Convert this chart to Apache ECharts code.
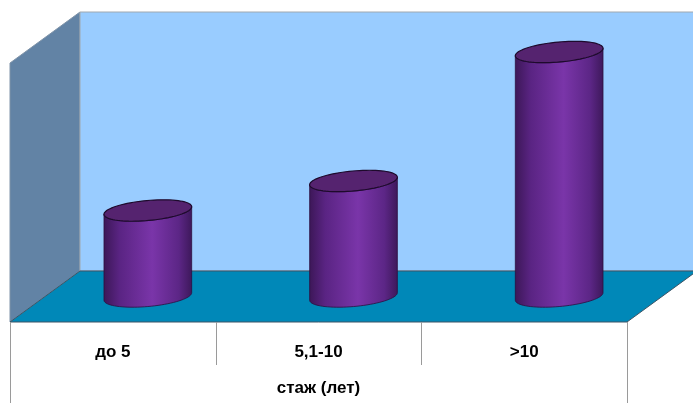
<!DOCTYPE html>
<html>
<head>
<meta charset="utf-8">
<script src="https://cdn.jsdelivr.net/npm/echarts@6/dist/echarts.min.js"></script>
<style>
  html, body { margin: 0; padding: 0; background: #ffffff; }
  #chart { width: 693px; height: 403px; }
</style>
</head>
<body>
<div id="chart"></div>
<script>
// Experience groups and their shares
const categories = ['до 5', '5,1-10', '>10'];
const values = [33.2, 44.6, 94.4];
const axisTitle = 'стаж (лет)';
const Y_MAX = 100;

// Oblique projection of the depth axis (screen px from front plane to back wall)
const DEPTH_X = 70;
const DEPTH_Y = -51;

const FONT = 'Liberation Sans, Arial, sans-serif';

const chart = echarts.init(document.getElementById('chart'), null, { renderer: 'canvas' });

// Walls, floor and the label table under the floor
function renderFrame(params, api) {
  const bw = api.size([1, 0])[0];
  const p0 = api.coord([0, 0]);
  const p1 = api.coord([categories.length - 1, Y_MAX]);
  const left = p0[0] - bw / 2;
  const right = p1[0] + bw / 2;
  const bottom = p0[1];
  const top = p1[1];
  const dx = DEPTH_X, dy = DEPTH_Y;
  const children = [];

  // side wall
  children.push({
    type: 'polygon',
    shape: { points: [[left, bottom], [left, top], [left + dx, top + dy], [left + dx, bottom + dy]] },
    style: { fill: '#6283a5', stroke: '#7f93a8', lineWidth: 1 }
  });
  // back wall
  children.push({
    type: 'polygon',
    shape: { points: [[left + dx, top + dy], [right + dx, top + dy], [right + dx, bottom + dy], [left + dx, bottom + dy]] },
    style: { fill: '#99ccff', stroke: '#a0a8b0', lineWidth: 1 }
  });
  // floor
  children.push({
    type: 'polygon',
    shape: { points: [[left, bottom], [right, bottom], [right + dx, bottom + dy], [left + dx, bottom + dy]] },
    style: { fill: '#0088b8', stroke: '#3d5566', lineWidth: 1 }
  });

  // separators of the category table
  const pageBottom = api.getHeight();
  for (let i = 0; i <= categories.length; i++) {
    const x = Math.round(left + bw * i) + 0.5;
    const outer = (i === 0 || i === categories.length);
    children.push({
      type: 'line',
      shape: { x1: x, y1: bottom, x2: x, y2: outer ? pageBottom : bottom + 43 },
      style: { stroke: '#9a9a9a', lineWidth: 1 }
    });
  }
  return { type: 'group', children: children };
}

// Point on a tilted ellipse
function ellipsePoint(cx, cy, a, b, phi, t) {
  const c = Math.cos(t), s = Math.sin(t);
  return [
    cx + a * c * Math.cos(phi) - b * s * Math.sin(phi),
    cy + a * c * Math.sin(phi) + b * s * Math.cos(phi)
  ];
}

// Cylinder standing in the middle of the floor depth
function renderCylinder(params, api) {
  const idx = api.value(0);
  const base = api.coord([idx, 0]);
  const topPt = api.coord([idx, api.value(1)]);
  const bw = api.size([1, 0])[0];
  const a = bw * 0.214;
  const b = 10;
  const phi = -0.09;
  const cx = base[0] + DEPTH_X / 2;
  const cyB = base[1] + DEPTH_Y / 2;
  const cyT = topPt[1] + DEPTH_Y / 2;
  // parameter of the right-hand tangent point
  const t0 = Math.atan(-b * Math.tan(phi) / a);
  const N = 40;

  const bodyPts = [];
  for (let k = 0; k <= N; k++) bodyPts.push(ellipsePoint(cx, cyB, a, b, phi, t0 + Math.PI * k / N));
  for (let k = N; k >= 0; k--) bodyPts.push(ellipsePoint(cx, cyT, a, b, phi, t0 + Math.PI * k / N));

  const cap = [];
  for (let k = 0; k < 2 * N; k++) cap.push(ellipsePoint(cx, cyT, a, b, phi, Math.PI * k / N));

  return {
    type: 'group',
    children: [
      {
        type: 'polygon',
        shape: { points: bodyPts },
        style: {
          fill: new echarts.graphic.LinearGradient(0, 0, 1, 0, [
            { offset: 0, color: '#3c1757' },
            { offset: 0.18, color: '#5a2483' },
            { offset: 0.55, color: '#7a35a9' },
            { offset: 0.85, color: '#5c2686' },
            { offset: 1, color: '#3d185a' }
          ]),
          stroke: '#2c0f40',
          lineWidth: 0.8
        }
      },
      {
        type: 'polygon',
        shape: { points: cap },
        style: { fill: '#55236f', stroke: '#1e0a2c', lineWidth: 1.2 }
      }
    ]
  };
}

chart.setOption({
  animation: false,
  grid: { left: 10, right: 66, top: 63, bottom: 81 },
  xAxis: {
    type: 'category',
    data: categories,
    axisLine: { show: false },
    axisTick: { show: false },
    axisLabel: {
      margin: 22,
      fontFamily: FONT,
      fontWeight: 'bold',
      fontSize: 17,
      color: '#000'
    },
    name: axisTitle,
    nameLocation: 'middle',
    nameGap: 58,
    nameTextStyle: {
      fontFamily: FONT,
      fontWeight: 'bold',
      fontSize: 17,
      color: '#000'
    }
  },
  yAxis: {
    type: 'value',
    min: 0,
    max: Y_MAX,
    show: false
  },
  series: [
    {
      type: 'custom',
      renderItem: renderFrame,
      data: [[0, 0]],
      clip: false,
      silent: true,
      z: 1
    },
    {
      type: 'custom',
      renderItem: renderCylinder,
      data: categories.map((c, i) => [i, values[i]]),
      clip: false,
      z: 2
    }
  ]
});
</script>
</body>
</html>
